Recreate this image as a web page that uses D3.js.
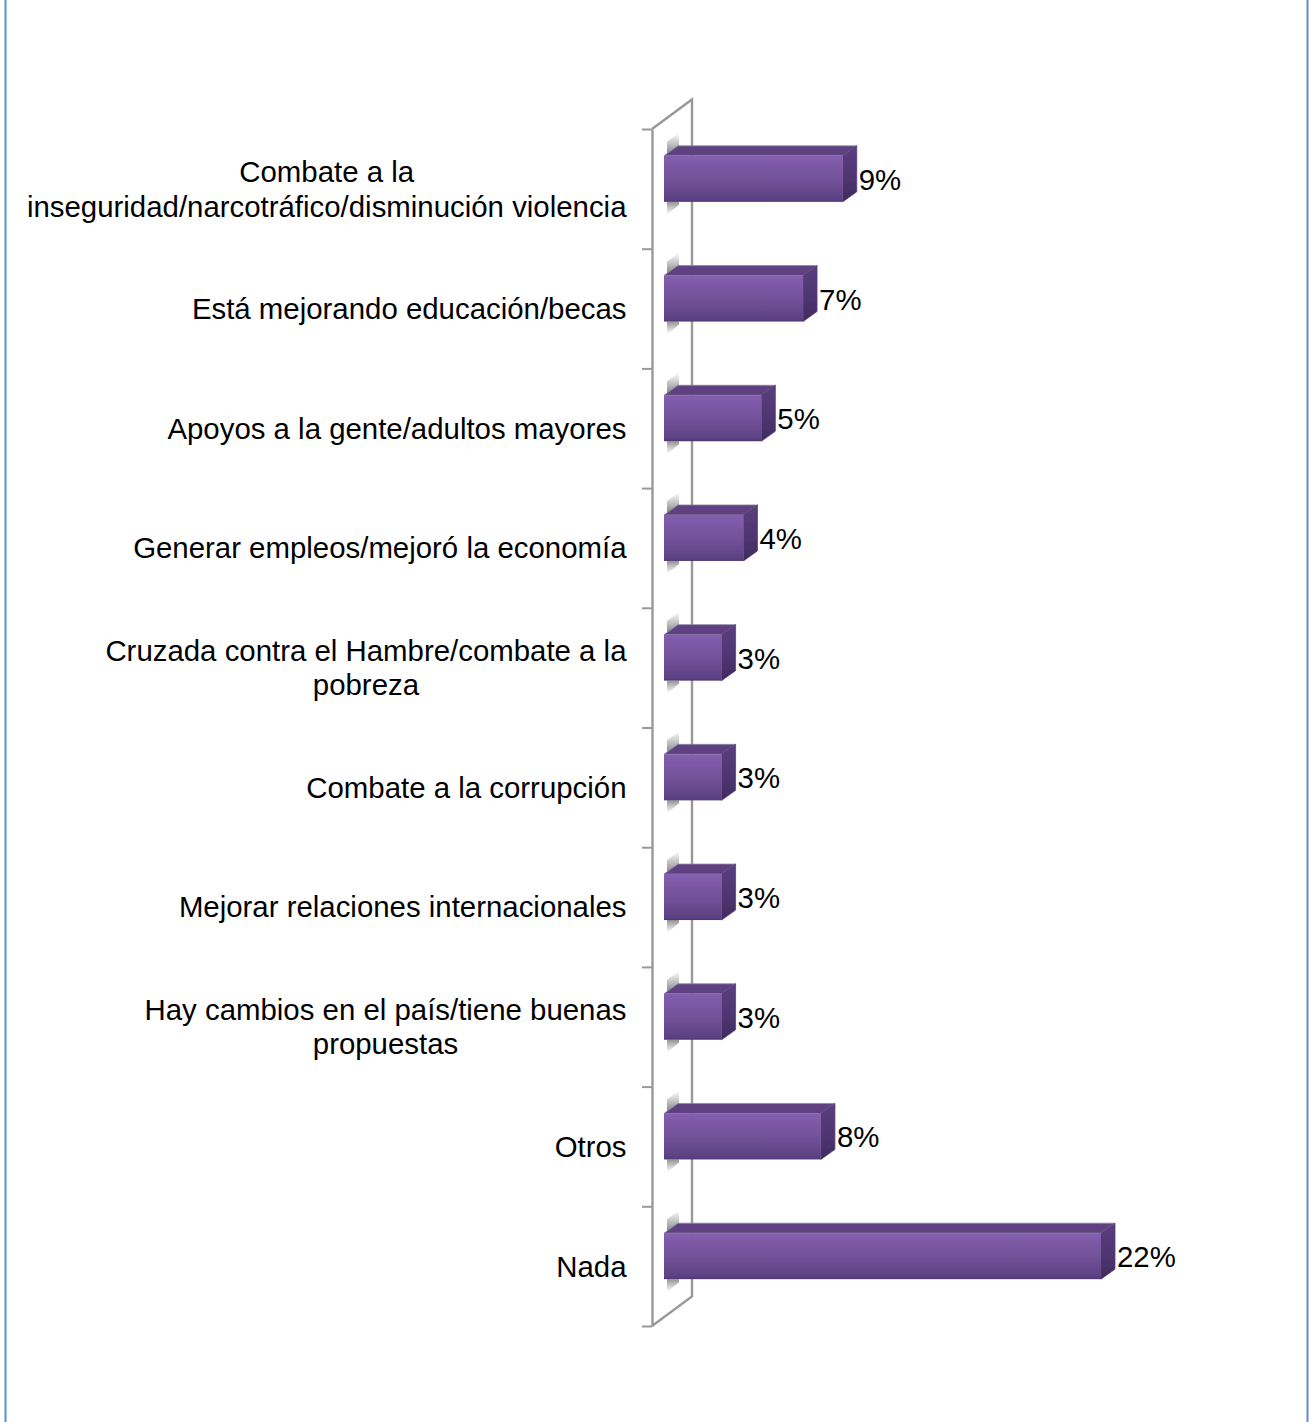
<!DOCTYPE html>
<html><head><meta charset="utf-8">
<script src="https://cdn.jsdelivr.net/npm/d3@7"></script>
<style>html,body{margin:0;padding:0;background:#fff;overflow:hidden}svg{display:block}text{font-family:"Liberation Sans",Arial,sans-serif;fill:#000}</style>
</head><body>
<svg id="c" width="1309" height="1422"></svg>
<script>
const categories = [
  ["Combate a la","inseguridad/narcotráfico/disminución violencia"],
  ["Está mejorando educación/becas"],
  ["Apoyos a la gente/adultos mayores"],
  ["Generar empleos/mejoró la economía"],
  ["Cruzada contra el Hambre/combate a la","pobreza"],
  ["Combate a la corrupción"],
  ["Mejorar relaciones internacionales"],
  ["Hay cambios en el país/tiene buenas","propuestas"],
  ["Otros"],
  ["Nada"]
];
const values = [9.0,7.0,4.9,4.0,2.9,2.9,2.9,2.9,7.9,22];

const W=1309,H=1422;
const svg=d3.select("#c");
const x=d3.scaleLinear().domain([0,22]).range([664,1101]);
const y=d3.scaleBand().domain(d3.range(categories.length)).range([129,1326]);
const tickScale=d3.scaleLinear().domain([0,categories.length]).range([129,1326]);
const dx=14,dy=10,barH=46,wallDx=40,wallDy=-29.5,frontX=652;
const fmt=v=>d3.format(".0f")(v)+"%";

const defs=svg.append("defs");
const grad=(id,stops,dir)=>{const g=defs.append("linearGradient").attr("id",id)
  .attr("x1",0).attr("y1",0).attr("x2",dir=="h"?1:0).attr("y2",dir=="h"?0:1);
  stops.forEach(s=>g.append("stop").attr("offset",s[0]).attr("stop-color",s[1]).attr("stop-opacity",s[2]==null?1:s[2]));};
grad("front",[[0,"#8460AE"],[0.12,"#7F5BA9"],[0.6,"#6F4F96"],[0.95,"#5C4082"],[1,"#4E3670"]]);
grad("side",[[0,"#5A3E7E"],[0.6,"#4E3570"],[1,"#3F2A5C"]],"v");
grad("shUp",[[0,"#888",0],[1,"#777",1]]);
grad("shDn",[[0,"#777",0.8],[1,"#888",0]]);
defs.append("filter").attr("id","soft").append("feGaussianBlur").attr("stdDeviation",0.6);

// page border
[[5.5],[1307.5]].forEach(d=>{
  svg.append("line").attr("x1",d[0]).attr("x2",d[0]).attr("y1",0).attr("y2",H).attr("stroke","#5B90D2").attr("stroke-width",2);
});

// wall
const wall=svg.append("g");
const yTop=tickScale.range()[0],yBot=tickScale.range()[1];
wall.append("path").attr("d",d3.line()([[frontX,yTop],[frontX+wallDx,yTop+wallDy],[frontX+wallDx,yBot+wallDy],[frontX,yBot]]))
  .attr("fill","#fff").attr("stroke","#999").attr("stroke-width",2.4);
const axis=d3.axisLeft(tickScale).tickValues(d3.range(categories.length+1)).tickSize(10).tickFormat("").tickSizeOuter(0);
const ag=wall.append("g").attr("transform",`translate(${frontX},0)`).call(axis);
ag.select(".domain").attr("stroke","#999").attr("stroke-width",2.4);
ag.selectAll(".tick line").attr("stroke","#999").attr("stroke-width",2);

// bars
const bars=svg.append("g").selectAll("g").data(values).join("g").attr("filter","url(#soft)");
const bot=(d,i)=>y(i)+y.bandwidth()/2+13;
bars.append("path").attr("fill","url(#shUp)")
  .attr("d",(d,i)=>{const b=bot(d,i)-barH;return d3.line()([[x(0)+3,b],[x(0)+3,b-14],[x(0)+dx+1,b-23],[x(0)+dx+1,b-dy]])+"Z";});
bars.append("path").attr("fill","url(#shDn)")
  .attr("d",(d,i)=>{const b=bot(d,i);return d3.line()([[x(0)+3,b],[x(0)+dx+1,b],[x(0)+dx+1,b+3],[x(0)+3,b+13]])+"Z";});
bars.append("path").attr("fill","#5E4180").attr("stroke","#8E86A6").attr("stroke-width",0.8).attr("stroke-linejoin","round")
  .attr("d",(d,i)=>{const b=bot(d,i)-barH,r=x(d);return d3.line()([[x(0),b],[x(0)+dx,b-dy],[r+dx,b-dy],[r,b]])+"Z";});
bars.append("path").attr("fill","url(#side)").attr("stroke","#5A3E7E").attr("stroke-width",0.8).attr("stroke-linejoin","round")
  .attr("d",(d,i)=>{const b=bot(d,i),r=x(d);return d3.line()([[r,b-barH],[r+dx,b-barH-dy],[r+dx,b-dy],[r,b]])+"Z";});
bars.append("rect").attr("fill","url(#front)")
  .attr("x",x(0)).attr("y",(d,i)=>bot(d,i)-barH).attr("width",d=>x(d)-x(0)).attr("height",barH);

// value labels
svg.append("g").selectAll("text").data(values).join("text")
  .attr("x",d=>x(d)+16).attr("y",(d,i)=>bot(d,i)-12)
  .attr("font-size",29.4).text(fmt);

// category labels
const lh=34.5,rightEdge=626.5;
const lg=svg.append("g");
categories.forEach((lines,i)=>{
  const g=lg.append("g");
  const ts=lines.map((t,k)=>g.append("text").attr("font-size",29.4).attr("text-anchor","middle")
    .attr("y",y(i)+y.bandwidth()/2+10.4-(lines.length-1)*lh/2+k*lh).text(t));
  const w=d3.max(ts,t=>t.node().getComputedTextLength());
  ts.forEach(t=>t.attr("x",rightEdge-w/2));
});
</script>
</body></html>
